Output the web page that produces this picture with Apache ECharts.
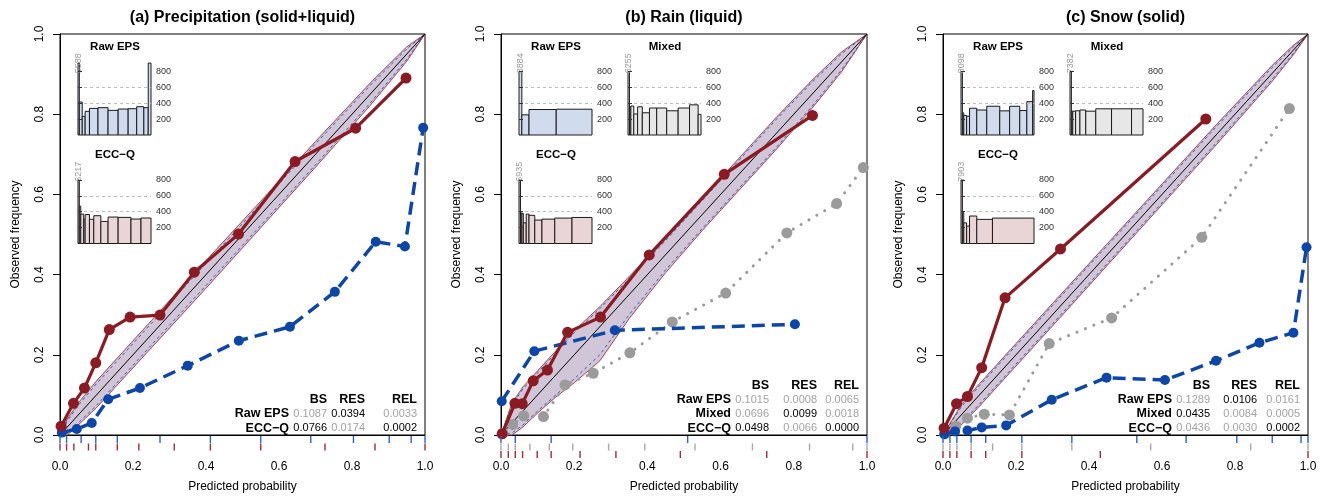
<!DOCTYPE html>
<html>
<head>
<meta charset="utf-8">
<script src="https://cdn.jsdelivr.net/npm/echarts@6/dist/echarts.min.js"></script>
<style>
html,body{margin:0;padding:0;background:#fff;}
#chart{width:1323px;height:498px;}
</style>
</head>
<body>
<div id="chart"></div>
<script>
// ---------------- data ----------------
const panelTitles = ['(a) Precipitation (solid+liquid)', '(b) Rain (liquid)', '(c) Snow (solid)'];
const histTicks = [200, 400, 600, 800];
const statHeaders = ['BS', 'RES', 'REL'];

// (a) Precipitation
const aRawP = [0.005, 0.046, 0.087, 0.132, 0.219, 0.35, 0.49, 0.63, 0.753, 0.865, 0.945, 0.995];
const aRawF = [0.006, 0.015, 0.030, 0.089, 0.117, 0.173, 0.235, 0.270, 0.357, 0.482, 0.470, 0.766];
const aEccP = [0.003, 0.037, 0.067, 0.098, 0.135, 0.192, 0.274, 0.368, 0.489, 0.644, 0.81, 0.948];
const aEccF = [0.022, 0.079, 0.117, 0.180, 0.263, 0.294, 0.299, 0.406, 0.501, 0.682, 0.765, 0.890];
const aRawEdges = [0, 0.018, 0.058, 0.098, 0.157, 0.274, 0.412, 0.550, 0.687, 0.804, 0.902, 0.962, 1.0];
const aRawCounts = [5588, 415, 235, 298, 335, 344, 310, 327, 331, 356, 344, 906];
const aEccEdges = [0, 0.018, 0.038, 0.078, 0.098, 0.157, 0.216, 0.313, 0.412, 0.550, 0.726, 0.863, 1.0];
const aEccCounts = [6217, 470, 370, 305, 365, 305, 350, 278, 333, 329, 308, 321];
const aBandX  = [0, 0.02, 0.05, 0.1, 0.15, 0.25, 0.4, 0.55, 0.7, 0.85, 0.95, 1];
const aBandHi = [0, 0.04, 0.08, 0.135, 0.185, 0.285, 0.435, 0.583, 0.732, 0.878, 0.968, 1];
const aBandLo = [0, 0.0, 0.025, 0.068, 0.118, 0.217, 0.366, 0.517, 0.668, 0.822, 0.932, 1];
const aBandHiB = [0, 0.035, 0.074, 0.128, 0.178, 0.278, 0.428, 0.577, 0.726, 0.872, 0.963, 1];
const aBandLoB = [0, 0.004, 0.03, 0.074, 0.124, 0.224, 0.373, 0.523, 0.674, 0.828, 0.937, 1];
const aStatRows = ['Raw EPS', 'ECC\u2212Q'];
const aStats = [[0.1087, 0.0394, 0.0033], [0.0766, 0.0174, 0.0002]];

// (b) Rain
const bRawP = [0.002, 0.091, 0.311, 0.803];
const bRawF = [0.084, 0.209, 0.261, 0.276];
const bMixP = [0.005, 0.032, 0.062, 0.116, 0.175, 0.252, 0.352, 0.468, 0.614, 0.781, 0.917, 0.99];
const bMixF = [0.005, 0.026, 0.048, 0.046, 0.125, 0.154, 0.205, 0.282, 0.354, 0.504, 0.577, 0.667];
const bEccP = [0.003, 0.038, 0.058, 0.088, 0.127, 0.182, 0.272, 0.405, 0.61, 0.851];
const bEccF = [0.003, 0.079, 0.078, 0.135, 0.162, 0.256, 0.294, 0.449, 0.650, 0.797];
const bRawEdges = [0, 0.039, 0.137, 0.51, 1.0];
const bRawCounts = [8884, 254, 321, 325];
const bMixEdges = [0, 0.02, 0.039, 0.079, 0.132, 0.196, 0.294, 0.393, 0.53, 0.687, 0.843, 0.961, 1.0];
const bMixCounts = [6255, 355, 365, 265, 355, 280, 340, 340, 305, 340, 380, 260];
const bEccEdges = [0, 0.02, 0.039, 0.059, 0.099, 0.137, 0.216, 0.314, 0.49, 0.726, 1.0];
const bEccCounts = [6935, 385, 380, 260, 370, 355, 295, 307, 320, 328];
const bBandX  = [0, 0.03, 0.06, 0.1, 0.15, 0.2, 0.27, 0.35, 0.45, 0.55, 0.65, 0.75, 0.85, 0.93, 1];
const bBandHi = [0, 0.08, 0.12, 0.16, 0.21, 0.26, 0.32, 0.395, 0.49, 0.59, 0.69, 0.79, 0.885, 0.955, 1];
const bBandLo = [0, 0.0, 0.02, 0.055, 0.095, 0.13, 0.185, 0.29, 0.405, 0.51, 0.61, 0.71, 0.815, 0.905, 1];
const bBandHiB = [0, 0.075, 0.115, 0.155, 0.205, 0.255, 0.315, 0.39, 0.485, 0.585, 0.685, 0.785, 0.88, 0.95, 1];
const bBandLoB = [0, 0.005, 0.025, 0.06, 0.1, 0.14, 0.2, 0.3, 0.412, 0.515, 0.615, 0.715, 0.82, 0.91, 1];
const bStatRows = ['Raw EPS', 'Mixed', 'ECC\u2212Q'];
const bStats = [[0.1015, 0.0008, 0.0065], [0.0696, 0.0099, 0.0018], [0.0498, 0.0066, 0.0000]];

// (c) Snow
const cRawP = [0.004, 0.033, 0.067, 0.106, 0.173, 0.298, 0.448, 0.608, 0.748, 0.867, 0.96, 0.996];
const cRawF = [0.002, 0.009, 0.011, 0.019, 0.024, 0.088, 0.143, 0.137, 0.185, 0.230, 0.255, 0.468];
const cMixP = [0.004, 0.035, 0.067, 0.113, 0.182, 0.291, 0.462, 0.709, 0.949];
const cMixF = [0.003, 0.022, 0.042, 0.052, 0.050, 0.228, 0.292, 0.493, 0.814];
const cEccP = [0.003, 0.037, 0.067, 0.106, 0.17, 0.322, 0.72];
const cEccF = [0.017, 0.078, 0.096, 0.168, 0.342, 0.464, 0.788];
const cRawEdges = [0, 0.019, 0.038, 0.077, 0.117, 0.216, 0.353, 0.531, 0.666, 0.805, 0.902, 0.981, 1.0];
const cRawCounts = [8098, 279, 246, 237, 337, 315, 362, 304, 362, 308, 420, 560];
const cMixEdges = [0, 0.019, 0.038, 0.077, 0.136, 0.216, 0.353, 0.569, 0.843, 1.0];
const cMixCounts = [7382, 300, 300, 305, 315, 300, 330, 330, 330];
const cEccEdges = [0, 0.019, 0.038, 0.077, 0.117, 0.216, 0.431, 1.0];
const cEccCounts = [7903, 390, 260, 220, 346, 304, 320];
const cBandX  = [0, 0.05, 0.1, 0.2, 0.3, 0.45, 0.6, 0.75, 0.9, 0.96, 1];
const cBandHi = [0, 0.075, 0.128, 0.228, 0.328, 0.477, 0.626, 0.775, 0.92, 0.972, 1];
const cBandLo = [0, 0.025, 0.072, 0.172, 0.272, 0.423, 0.574, 0.725, 0.88, 0.948, 1];
const cBandHiB = [0, 0.07, 0.123, 0.223, 0.323, 0.472, 0.621, 0.77, 0.915, 0.968, 1];
const cBandLoB = [0, 0.03, 0.077, 0.177, 0.277, 0.428, 0.579, 0.73, 0.885, 0.952, 1];
const cStatRows = ['Raw EPS', 'Mixed', 'ECC\u2212Q'];
const cStats = [[0.1289, 0.0106, 0.0161], [0.0435, 0.0084, 0.0005], [0.0436, 0.0030, 0.0002]];

// ---------------- layout & style ----------------
const FONT = '"Liberation Sans", Arial, Helvetica, sans-serif';
const RED = '#8b1a22', BLUE = '#0b46a8', GRAY = '#9b9b9b';
const BAND_FILL = '#d0c6d7';
const FILL_RAW = '#d0dcee', FILL_MIX = '#e7e7e7', FILL_ECC = '#e9d5d6';
const RUG = {raw: '#2b63c6', mix: '#a9a9a9', ecc: '#a52a3a'};
const PX_PER_COUNT = 0.0794;
const LABEL_Y = 905;
const mains = [
  {left: 60, top: 34, width: 365, height: 403},
  {left: 501, top: 34, width: 366, height: 403},
  {left: 943, top: 34, width: 365, height: 403}
];

const panels = [
  {raw: [aRawP, aRawF, aRawEdges, aRawCounts], mix: null, ecc: [aEccP, aEccF, aEccEdges, aEccCounts],
   band: [aBandX, aBandHi, aBandLo, aBandHiB, aBandLoB], rows: aStatRows, stats: aStats, resOff: 60},
  {raw: [bRawP, bRawF, bRawEdges, bRawCounts], mix: [bMixP, bMixF, bMixEdges, bMixCounts], ecc: [bEccP, bEccF, bEccEdges, bEccCounts],
   band: [bBandX, bBandHi, bBandLo, bBandHiB, bBandLoB], rows: bStatRows, stats: bStats, resOff: 50},
  {raw: [cRawP, cRawF, cRawEdges, cRawCounts], mix: [cMixP, cMixF, cMixEdges, cMixCounts], ecc: [cEccP, cEccF, cEccEdges, cEccCounts],
   band: [cBandX, cBandHi, cBandLo, cBandHiB, cBandLoB], rows: cStatRows, stats: cStats, resOff: 51}
];

const grid = [], xAxis = [], yAxis = [], series = [], graphic = [];

function txt(x, y, text, font, fill, align, rot) {
  graphic.push({type: 'text', x: x, y: y, rotation: rot || 0, silent: true, z: 100,
    style: {text: text, font: font, fill: fill, align: align || 'center', verticalAlign: 'middle',
            textAlign: align || 'center', textVerticalAlign: 'middle'}});
}

function addInset(left, bottom, edges, counts, fill, title) {
  const rest = counts.slice(1);
  const ymax = Math.max(800, Math.max.apply(null, rest));
  const h = ymax * PX_PER_COUNT;
  const gi = grid.length;
  grid.push({left: left, top: bottom - h, width: 73, height: h});
  xAxis.push({gridIndex: gi, type: 'value', min: 0, max: 1, show: false});
  yAxis.push({gridIndex: gi, type: 'value', min: 0, max: ymax, interval: 200, position: 'right', z: 6,
    axisLine: {show: false},
    axisTick: {show: true, length: 4, customValues: histTicks, lineStyle: {color: '#333', width: 1}},
    axisLabel: {customValues: histTicks, margin: 5, fontSize: 9, color: '#333', fontFamily: FONT},
    splitLine: {show: true, showMinLine: false, showMaxLine: false, lineStyle: {type: [3, 3], color: '#bdbdbd', width: 1}}});
  series.push({type: 'custom', xAxisIndex: gi, yAxisIndex: gi, clip: false, z: 4, silent: true,
    data: counts.map((c, k) => [edges[k], edges[k + 1], c]),
    renderItem: (params, api) => {
      const x0 = api.value(0), x1 = api.value(1), c = api.value(2);
      const p0 = api.coord([x0, Math.min(c, ymax)]);
      const p1 = api.coord([x1, 0]);
      const ch = [{type: 'rect', shape: {x: p0[0], y: p0[1], width: p1[0] - p0[0], height: p1[1] - p0[1]},
                   style: {fill: fill, stroke: '#1a1a1a', lineWidth: 1}}];
      if (c > ymax) {
        const t = api.coord([(x0 + x1) / 2, LABEL_Y]);
        ch.push({type: 'text', x: t[0], y: t[1], rotation: Math.PI / 2,
          style: {text: String(c), font: '9px ' + FONT, fill: '#9b9b9b', align: 'center', verticalAlign: 'middle',
                  textAlign: 'center', textVerticalAlign: 'middle'}});
      }
      return {type: 'group', children: ch};
    }});
  txt(left + 37, bottom - 88.3, title, 'bold 11.5px ' + FONT, '#000', 'center');
}

panels.forEach((P, i) => {
  const g = mains[i];
  const gi = grid.length;
  grid.push({left: g.left, top: g.top, width: g.width, height: g.height, show: true, borderColor: '#000', borderWidth: 1, backgroundColor: 'transparent'});
  xAxis.push({gridIndex: gi, type: 'value', min: 0, max: 1, interval: 0.2,
    axisLine: {show: true, onZero: false, lineStyle: {color: '#000', width: 1}},
    axisTick: {show: false}, splitLine: {show: false},
    axisLabel: {margin: 26, color: '#000', fontSize: 12, fontFamily: FONT, formatter: v => v.toFixed(1)},
    name: 'Predicted probability', nameLocation: 'middle', nameGap: 46,
    nameTextStyle: {color: '#000', fontSize: 12, fontFamily: FONT}});
  yAxis.push({gridIndex: gi, type: 'value', min: 0, max: 1, interval: 0.2,
    axisLine: {show: true, onZero: false, lineStyle: {color: '#000', width: 1}},
    axisTick: {show: true, length: 7, lineStyle: {color: '#000'}}, splitLine: {show: false},
    axisLabel: {rotate: 90, margin: 14, color: '#000', fontSize: 12, fontFamily: FONT, formatter: v => v.toFixed(1)},
    name: 'Observed frequency', nameLocation: 'middle', nameGap: 38,
    nameTextStyle: {color: '#000', fontSize: 12, fontFamily: FONT}});

  // consistency band
  const [bx, bhi, blo, bhiB, bloB] = P.band;
  series.push({type: 'custom', xAxisIndex: gi, yAxisIndex: gi, clip: false, z: 1, silent: true, data: [[0, 0]],
    renderItem: (params, api) => {
      const up = bx.map((x, k) => api.coord([x, bhi[k]]));
      const lo = bx.map((x, k) => api.coord([x, blo[k]]));
      const upB = bx.map((x, k) => api.coord([x, bhiB[k]]));
      const loB = bx.map((x, k) => api.coord([x, bloB[k]]));
      return {type: 'group', children: [
        {type: 'polygon', shape: {points: up.concat(lo.slice().reverse())}, style: {fill: BAND_FILL}},
        {type: 'polyline', shape: {points: upB}, style: {stroke: '#2f5fc0', lineWidth: 1, lineDash: [3, 3], fill: null}},
        {type: 'polyline', shape: {points: loB}, style: {stroke: '#2f5fc0', lineWidth: 1, lineDash: [3, 3], fill: null}},
        {type: 'polyline', shape: {points: up}, style: {stroke: '#a3303c', lineWidth: 0.9, fill: null}},
        {type: 'polyline', shape: {points: lo}, style: {stroke: '#a3303c', lineWidth: 0.9, fill: null}}
      ]};
    }});
  // diagonal
  series.push({type: 'line', xAxisIndex: gi, yAxisIndex: gi, z: 2, silent: true, symbol: 'none',
    data: [[0, 0], [1, 1]], lineStyle: {color: '#000', width: 1}});
  // mixed
  if (P.mix) {
    series.push({type: 'line', xAxisIndex: gi, yAxisIndex: gi, z: 3, silent: true, symbol: 'circle', symbolSize: 11,
      data: P.mix[0].map((p, k) => [p, P.mix[1][k]]),
      itemStyle: {color: GRAY}, lineStyle: {color: GRAY, width: 3, type: [0.1, 9], cap: 'round'}});
  }
  // raw
  series.push({type: 'line', xAxisIndex: gi, yAxisIndex: gi, z: 4, silent: true, symbol: 'circle', symbolSize: 10,
    data: P.raw[0].map((p, k) => [p, P.raw[1][k]]),
    itemStyle: {color: BLUE}, lineStyle: {color: BLUE, width: 3.5, type: [13, 7]}});
  // ecc
  series.push({type: 'line', xAxisIndex: gi, yAxisIndex: gi, z: 5, silent: true, symbol: 'circle', symbolSize: 11,
    data: P.ecc[0].map((p, k) => [p, P.ecc[1][k]]),
    itemStyle: {color: RED}, lineStyle: {color: RED, width: 3.2}});

  // rug of bin edges
  const rugRows = [[P.raw[2], RUG.raw]];
  if (P.mix) rugRows.push([P.mix[2], RUG.mix]);
  rugRows.push([P.ecc[2], RUG.ecc]);
  const rugData = [];
  rugRows.forEach((r, ri) => r[0].forEach(e => rugData.push([e, ri])));
  series.push({type: 'custom', xAxisIndex: gi, yAxisIndex: gi, clip: false, z: 6, silent: true, data: rugData,
    renderItem: (params, api) => {
      const pt = api.coord([api.value(0), 0]);
      const ri = api.value(1);
      const y0 = pt[1] + 1 + ri * 7.5;
      return {type: 'line', shape: {x1: pt[0], y1: y0, x2: pt[0], y2: y0 + 7},
        style: {stroke: rugRows[ri][1], lineWidth: 1.4}};
    }});

  // title
  txt(g.left + g.width / 2, 18, panelTitles[i], 'bold 16px ' + FONT, '#000', 'center');

  // insets
  addInset(g.left + 18, 135, P.raw[2], P.raw[3], FILL_RAW, 'Raw EPS');
  if (P.mix) addInset(g.left + 127, 135, P.mix[2], P.mix[3], FILL_MIX, 'Mixed');
  addInset(g.left + 18, 243.5, P.ecc[2], P.ecc[3], FILL_ECC, 'ECC\u2212Q');

  // statistics table
  const R = g.left + g.width;
  const colRight = [R - 98, R - P.resOff, R - 8];
  const n = P.rows.length;
  const rowY = k => 428.3 - (n - 1 - k) * 14.3;
  statHeaders.forEach((h, c) => txt(colRight[c], rowY(0) - 14.3, h, 'bold 12.5px ' + FONT, '#000', 'right'));
  const best = [0, 1, 2].map(c => {
    const col = P.stats.map(r => r[c]);
    return c === 1 ? col.indexOf(Math.max.apply(null, col)) : col.indexOf(Math.min.apply(null, col));
  });
  P.rows.forEach((name, k) => {
    txt(R - 136, rowY(k), name, 'bold 12.5px ' + FONT, '#000', 'right');
    P.stats[k].forEach((v, c) => txt(colRight[c], rowY(k), v.toFixed(4), '11px ' + FONT,
      best[c] === k ? '#000' : '#a3a3a3', 'right'));
  });
});

const chart = echarts.init(document.getElementById('chart'), null, {renderer: 'canvas'});
chart.setOption({animation: false, backgroundColor: '#fff', grid: grid, xAxis: xAxis, yAxis: yAxis, series: series, graphic: graphic});
</script>
</body>
</html>
